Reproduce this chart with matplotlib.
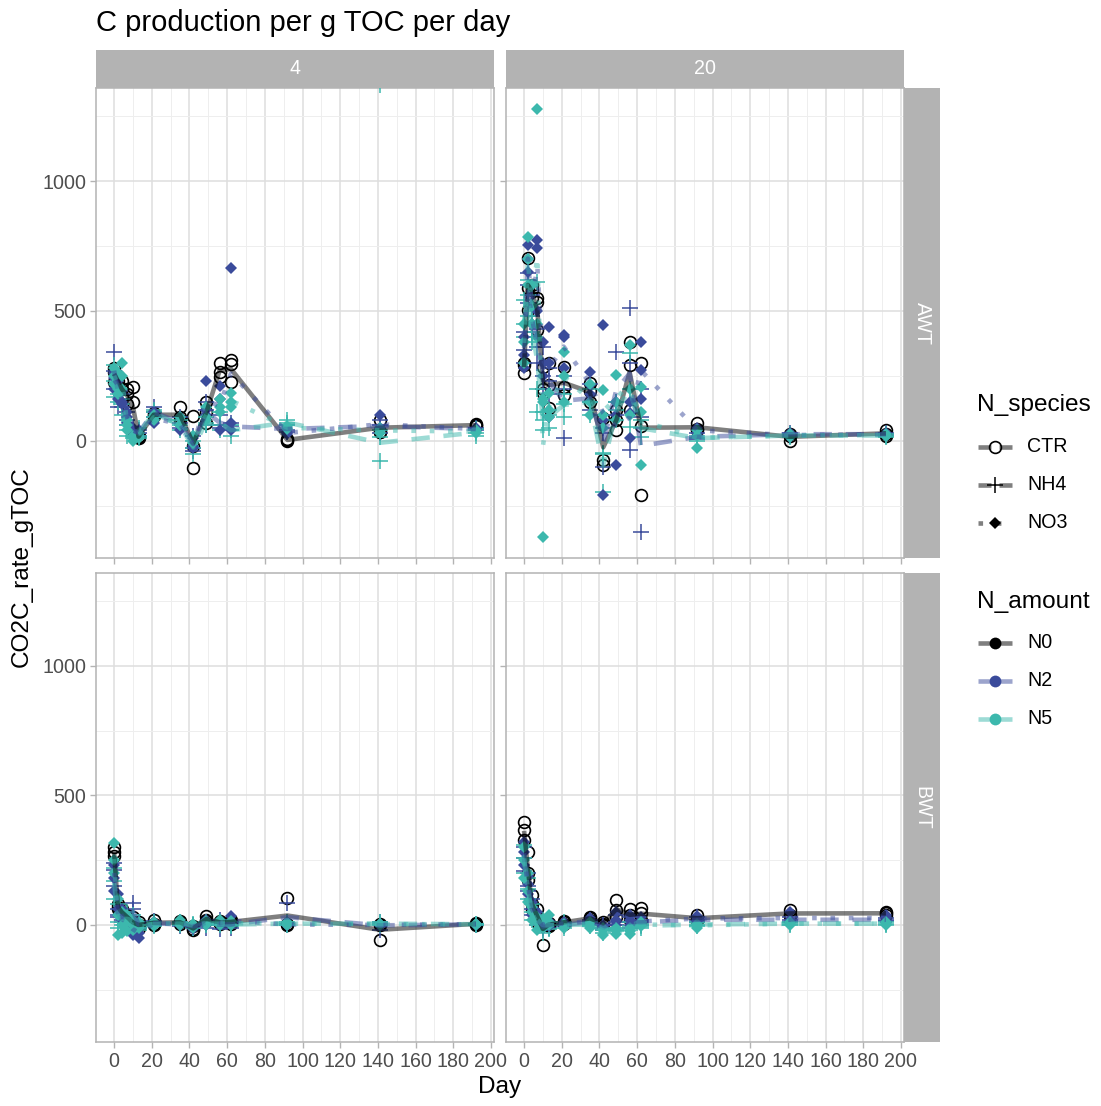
import numpy as np
import matplotlib
matplotlib.use("Agg")
import matplotlib.pyplot as plt
from matplotlib.ticker import MultipleLocator

plt.rcParams['font.family'] = ['Liberation Sans', 'DejaVu Sans']

# sampling days (same for every treatment)
days = [0, 2, 4, 7, 10, 13, 21, 35, 42, 49, 56, 62, 92, 141, 192]

temps = ['4', '20']
waters = ['AWT', 'BWT']
species = ['CTR', 'NH4', 'NO3']
amounts = ['N0', 'N2', 'N5']

# ---- AWT, 4 degrees: three replicates per treatment ----
awt4_ctr_n0 = [[265, 250, 200, 180, 208, 12, 95, 130, -105, 150, 300, 310, 0, 80, 60],
               [227, 230, 170, 140, 150, 20, 100, 90, -20, 110, 265, 295, 5, 35, 55],
               [280, 210, 230, 200, 35, 15, 105, 80, 95, 70, 245, 225, 4, 35, 65]]
awt4_nh4_n2 = [[340, 200, 130, 110, 50, 20, 130, 90, -30, 60, 100, 70, 60, 60, 45],
               [270, 250, 180, 80, 30, 40, 110, 70, 20, 120, 60, 40, 40, 80, 50],
               [200, 130, 160, 60, 40, 30, 90, 50, -40, 150, 50, 55, 35, 30, 40]]
awt4_nh4_n5 = [[290, 240, 160, 60, 30, 20, 110, 80, -50, 70, 110, 60, 80, -80, 20],
               [230, 180, 140, 40, 10, 50, 90, 60, -30, 90, 60, 20, 60, 15, 45],
               [170, 150, 100, 20, 20, 10, 120, 40, 0, 60, 40, 40, 70, 41, 30]]
awt4_no3_n2 = [[260, 230, 150, 110, 50, 20, 80, 90, -20, 230, 160, 665, 30, 100, 45],
               [200, 160, 190, 90, 30, 40, 110, 60, 10, 120, 40, 70, 35, 50, 40],
               [240, 260, 140, 70, 40, 30, 70, 40, -30, 100, 210, 40, 25, 40, 50]]
awt4_no3_n5 = [[280, 260, 300, 60, 0, 20, 100, 90, 20, 130, 160, 185, 50, 50, 35],
               [250, 200, 250, 40, 20, 10, 90, 60, -10, 80, 130, 130, 45, 30, 30],
               [220, 180, 200, 80, 10, 30, 80, 60, 20, 90, 110, 150, 55, 40, 40]]
# flagged reading, shown but left out of the mean
awt4_nh4_n5_flag_day = [141]
awt4_nh4_n5_flag_val = [1372]

# ---- AWT, 20 degrees ----
awt20_ctr_n0 = [[300, 705, 580, 550, 285, 215, 208, 223, 88, 80, 380, 300, 70, 25, 40],
                [260, 505, 550, 535, 200, 127, 177, 190, -73, 42, 292, -208, 40, 0, 20],
                [290, 590, 600, 427, 185, 300, 285, 150, -92, 118, 120, 58, 45, 20, 25]]
awt20_nh4_n2 = [[420, 647, 560, 430, 362, 280, 250, 150, 30, 342, 512, -350, 30, 20, 25],
                [350, 600, 480, 360, 250, 230, 12, 220, 50, 150, 300, 90, 10, 30, 20],
                [300, 530, 400, 300, 200, 180, 200, 120, -100, 100, -35, 200, 5, 25, 30]]
awt20_nh4_n5 = [[543, 620, 500, 612, 112, 50, 92, 150, -46, 120, 338, 15, 0, 20, 20],
                [450, 560, 420, 112, 42, 120, 180, 200, -196, 80, 54, 80, 10, 25, 15],
                [400, 480, 380, 200, 80, 100, 140, 100, -50, 150, 200, 50, 20, 15, 25]]
awt20_no3_n2 = [[400, 755, 600, 775, 380, 440, 408, 265, 447, -92, 108, 273, 40, 30, 25],
                [330, 700, 520, 743, 300, 92, 400, 215, 80, 150, 12, 380, 30, 20, 20],
                [280, 650, 450, 500, 250, 300, 280, 180, -208, 100, 150, 160, 50, 15, 30]]
awt20_no3_n5 = [[450, 785, 600, 1279, -370, 185, 342, 220, 196, 254, 370, 208, -27, 25, 20],
                [380, 700, 520, 450, 150, 120, 250, 150, 100, 150, 200, 112, 20, 20, 25],
                [300, 600, 450, 400, 160, 90, 150, 100, 50, 80, 100, -92, 40, 15, 20]]

# ---- BWT, 4 degrees ----
bwt4_ctr_n0 = [[300, 80, 60, 40, 30, 10, 20, 15, -20, 35, 10, 20, 104, -58, 5],
               [280, 60, 40, 20, 10, -10, 5, 5, -5, 20, 5, 10, 0, 0, 0],
               [265, 70, 50, 30, -10, 0, 0, 10, -15, 15, 15, 5, 5, 2, 8]]
bwt4_nh4_n2 = [[240, 60, 40, 20, 85, 10, 15, 10, 0, 10, 20, 10, 85, 10, 5],
               [212, 30, 20, 10, 60, -10, 0, 0, -10, -10, 0, -10, 5, -20, 0],
               [150, 40, 10, 0, 20, 5, 5, -5, -5, 5, -15, 5, 0, 5, 2]]
bwt4_nh4_n5 = [[220, 80, 40, 50, 40, 0, 10, 10, 0, 10, 10, 10, 10, 10, 5],
               [170, 10, 30, 20, 10, -10, -5, 0, -10, 0, 0, 0, 0, 0, 0],
               [100, -10, 0, 0, 0, -20, 5, 5, 5, 5, 5, -5, 5, 5, 3]]
bwt4_no3_n2 = [[230, 120, 60, 30, 10, -50, 0, 10, -10, 20, 15, 35, 5, 5, 3],
               [180, 40, 20, 0, -20, -30, 10, 0, -15, 10, 0, 10, 0, 0, 0],
               [130, 60, 30, -10, -40, -10, 5, 5, 0, 0, 5, 5, 0, -5, 5]]
bwt4_no3_n5 = [[315, 100, 50, 40, 20, 0, 10, 20, 0, 15, 20, 15, 10, 5, 5],
               [250, -38, 0, 10, -20, -10, 5, 5, 5, 5, 10, 5, 0, 0, 0],
               [200, 40, -30, -25, 0, 10, -5, 0, -10, 0, 0, 0, 5, 5, 3]]

# ---- BWT, 20 degrees ----
bwt20_ctr_n0 = [[397, 173, 115, 60, 20, 8, 10, 31, 12, 96, 38, 65, 38, 58, 50],
                [366, 281, 80, 30, -77, 0, 5, 25, 5, 58, 20, 46, 20, 40, 45],
                [327, 200, 60, 10, 10, -5, 15, 20, 0, 30, 60, 20, 20, 35, 40]]
bwt20_nh4_n2 = [[300, 200, 100, 40, 10, 10, 5, 20, 0, 40, 30, 20, 30, 30, 25],
                [260, 150, 60, 20, -20, 0, 0, 10, -10, 10, 10, 10, 20, 20, 20],
                [210, 130, 40, 0, -10, -10, -5, 5, -20, 0, -10, 0, 10, 10, 15]]
bwt20_nh4_n5 = [[310, 180, 80, 40, 20, 10, 10, 10, -10, -10, 10, 5, 10, 10, 10],
                [260, 140, 50, 20, -30, 0, 0, 0, -20, -25, -20, -10, -5, 0, 5],
                [200, 100, 20, 0, 10, -15, -10, -5, -30, -20, -5, -5, 0, 5, 0]]
bwt20_no3_n2 = [[320, 190, 90, 50, 10, 15, 10, 25, 0, 50, 40, 30, 35, 50, 40],
                [280, 160, 60, 20, 0, 5, 0, 15, -10, 20, 20, 10, 25, 20, 30],
                [230, 120, 40, 10, -10, -5, 5, 5, -5, 0, 0, 0, 15, 10, 10]]
bwt20_no3_n5 = [[300, 200, 70, 30, 20, 40, 0, 10, -38, -35, -35, 10, 5, 10, 10],
                [250, 130, 50, 10, 0, 10, -10, 0, -20, -20, -25, -5, 0, 0, 5],
                [180, 90, 20, -20, -10, 0, 5, -10, -10, -10, -10, 0, -10, 5, 0]]

panels = {
    ('AWT', '4'): [('CTR', 'N0', awt4_ctr_n0), ('NH4', 'N2', awt4_nh4_n2), ('NH4', 'N5', awt4_nh4_n5),
                   ('NO3', 'N2', awt4_no3_n2), ('NO3', 'N5', awt4_no3_n5)],
    ('AWT', '20'): [('CTR', 'N0', awt20_ctr_n0), ('NH4', 'N2', awt20_nh4_n2), ('NH4', 'N5', awt20_nh4_n5),
                    ('NO3', 'N2', awt20_no3_n2), ('NO3', 'N5', awt20_no3_n5)],
    ('BWT', '4'): [('CTR', 'N0', bwt4_ctr_n0), ('NH4', 'N2', bwt4_nh4_n2), ('NH4', 'N5', bwt4_nh4_n5),
                   ('NO3', 'N2', bwt4_no3_n2), ('NO3', 'N5', bwt4_no3_n5)],
    ('BWT', '20'): [('CTR', 'N0', bwt20_ctr_n0), ('NH4', 'N2', bwt20_nh4_n2), ('NH4', 'N5', bwt20_nh4_n5),
                    ('NO3', 'N2', bwt20_no3_n2), ('NO3', 'N5', bwt20_no3_n5)],
}

colors = {'N0': '#000000', 'N2': '#3a4b9b', 'N5': '#3cb8ad'}
marker_style = {
    'CTR': dict(marker='o', markersize=8.5, markerfacecolor='none', markeredgewidth=1.2),
    'NH4': dict(marker='+', markersize=12, markeredgewidth=1.1),
    'NO3': dict(marker='D', markersize=6.2, markeredgewidth=0),
}
line_style = {'CTR': '-', 'NH4': (0, (4, 3)), 'NO3': (0, (1, 3))}
LW = 3.3

# font sizes
FS_TITLE = 21
FS_AXIS = 17.6
FS_TICK = 14.1

W, H = 1101, 1106
fig = plt.figure(figsize=(W / 100, H / 100), dpi=100)


def rect(x0, y0, x1, y1):
    return [x0 / W, 1 - y1 / H, (x1 - x0) / W, (y1 - y0) / H]


col_x = [(96, 494), (506, 904)]
row_y = [(88, 558), (573, 1042)]
strip_grey = '#b3b3b3'
text_grey = '#4d4d4d'

for i, water in enumerate(waters):
    for j, temp in enumerate(temps):
        x0, x1 = col_x[j]
        y0, y1 = row_y[i]
        ax = fig.add_axes(rect(x0, y0, x1, y1))
        ax.set_xlim(-9.6, 201.6)
        ax.set_ylim(-452, 1359)
        ax.xaxis.set_major_locator(MultipleLocator(20))
        ax.xaxis.set_minor_locator(MultipleLocator(10))
        ax.yaxis.set_major_locator(MultipleLocator(500))
        ax.yaxis.set_minor_locator(MultipleLocator(250))
        ax.grid(which='major', color='#dedede', linewidth=1.1)
        ax.grid(which='minor', color='#eeeeee', linewidth=0.7)
        ax.set_axisbelow(True)
        for s in ax.spines.values():
            s.set_color(strip_grey)
            s.set_linewidth(1.1)
        ax.tick_params(which='major', color=strip_grey, length=4, width=1,
                       labelsize=FS_TICK, labelcolor=text_grey, pad=3)
        ax.tick_params(which='minor', length=0)
        if j > 0:
            ax.tick_params(labelleft=False)
        if i == 0:
            ax.tick_params(labelbottom=False)

        # replicate points
        for sp, am, reps in panels[(water, temp)]:
            reps = np.array(reps, dtype=float)
            for rep in reps:
                ax.plot(days, rep, linestyle='none', color=colors[am], zorder=3,
                        **marker_style[sp])
        if (water, temp) == ('AWT', '4'):
            ax.plot(awt4_nh4_n5_flag_day, awt4_nh4_n5_flag_val, linestyle='none',
                    color=colors['N5'], zorder=3, **marker_style['NH4'])
        # treatment means
        for sp, am, reps in panels[(water, temp)]:
            mean = np.array(reps, dtype=float).mean(axis=0)
            ax.plot(days, mean, color=colors[am], alpha=0.5, linewidth=LW,
                    linestyle=line_style[sp], solid_capstyle='butt',
                    dash_capstyle='butt', zorder=4)

        # strips
        if i == 0:
            sax = fig.add_axes(rect(x0, 50, x1, 88))
            sax.set_facecolor(strip_grey)
            sax.set_xticks([]); sax.set_yticks([])
            for s in sax.spines.values():
                s.set_visible(False)
            sax.text(0.5, 0.5, temp, color='white', fontsize=FS_TICK,
                     ha='center', va='center', transform=sax.transAxes)
        if j == 1:
            sax = fig.add_axes(rect(904, y0, 940, y1))
            sax.set_facecolor(strip_grey)
            sax.set_xticks([]); sax.set_yticks([])
            for s in sax.spines.values():
                s.set_visible(False)
            sax.text(0.5, 0.5, water, color='white', fontsize=FS_TICK, rotation=-90,
                     ha='center', va='center', transform=sax.transAxes)

fig.text(96 / W, 1 - 23 / H, 'C production per g TOC per day', fontsize=FS_TITLE,
         ha='left', va='center')
fig.text(500 / W, 1 - 1087 / H, 'Day', fontsize=FS_AXIS, ha='center', va='center')
fig.text(22 / W, 1 - 567 / H, 'CO2C_rate_gTOC', fontsize=FS_AXIS, rotation=90,
         ha='center', va='center')

# legends drawn on an overlay in pixel coordinates
lax = fig.add_axes([0, 0, 1, 1])
lax.set_xlim(0, W)
lax.set_ylim(H, 0)
lax.axis('off')

lax.text(977, 405, 'N_species', fontsize=FS_AXIS, ha='left', va='center')
for k, sp in enumerate(species):
    y = 447 + 38 * k
    if sp == 'NO3':
        lax.plot([978, 1012], [y, y], color='black', alpha=0.5, linewidth=LW,
                 linestyle=line_style[sp], dash_capstyle='butt')
    else:
        # a short key shows the dashed line as two solid pieces
        for xa, xb in [(978, 991), (999, 1012)]:
            lax.plot([xa, xb], [y, y], color='black', alpha=0.5, linewidth=LW,
                     solid_capstyle='butt')
    lax.plot([995], [y], linestyle='none', color='black', **marker_style[sp])
    lax.text(1027, y, sp, fontsize=FS_TICK, ha='left', va='center')

lax.text(977, 602, 'N_amount', fontsize=FS_AXIS, ha='left', va='center')
for k, am in enumerate(amounts):
    y = 643 + 38 * k
    lax.plot([978, 1012], [y, y], color=colors[am], alpha=0.5, linewidth=LW,
             solid_capstyle='butt')
    lax.plot([995], [y], linestyle='none', marker='o', markersize=8.5,
             color=colors[am], markeredgewidth=0)
    lax.text(1027, y, am, fontsize=FS_TICK, ha='left', va='center')

fig.savefig('out.png', dpi=100)
